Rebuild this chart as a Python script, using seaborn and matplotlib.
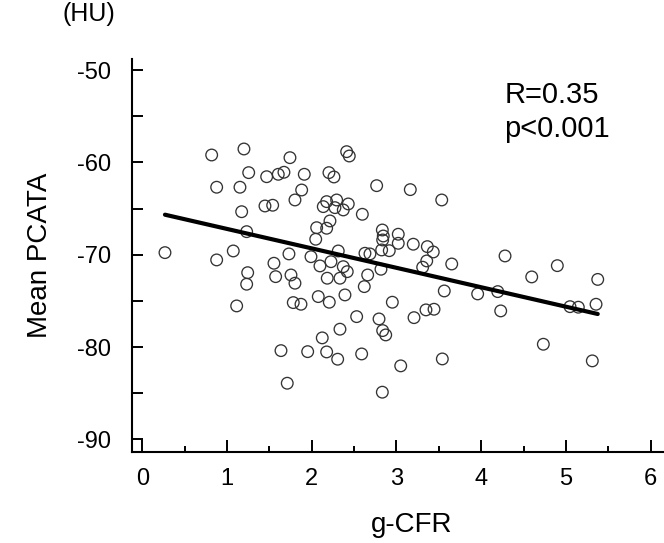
import matplotlib

matplotlib.use("Agg")
import matplotlib.pyplot as plt
import numpy as np
import pandas as pd
import seaborn as sns

# values
g_cfr = [
    0.819, 1.200, 1.256, 1.468, 1.605, 0.878, 1.153, 1.448, 1.539, 1.173,
    1.232, 0.268, 1.074, 0.878, 1.554, 1.244, 1.574, 1.743, 2.412, 2.443,
    1.672, 1.912, 2.203, 2.262, 1.881, 1.802, 2.766, 3.163, 3.534, 2.136,
    2.176, 2.294, 2.274, 2.372, 2.431, 2.597, 2.215, 2.058, 2.176, 2.047,
    2.833, 2.844, 2.837, 3.021, 3.021, 3.198, 3.364, 3.434, 3.357, 3.309,
    2.825, 2.915, 2.687, 2.628, 2.313, 1.731, 1.991, 2.227, 2.097, 2.372,
    2.419, 2.817, 2.660, 1.755, 1.802, 2.183, 2.333, 2.620, 1.782, 1.873,
    2.077, 2.207, 2.392, 2.951, 3.348, 3.443, 3.564, 2.530, 2.794, 3.207,
    2.333, 2.837, 2.873, 2.124, 1.637, 1.952, 2.176, 2.306, 2.589, 3.050,
    3.541, 1.711, 2.833, 1.232, 1.114, 3.652, 4.281, 4.898, 4.596, 5.375,
    3.958, 4.195, 4.230, 5.048, 5.146, 5.355, 4.733, 5.311,
]
mean_pcata = [
    -59.20, -58.55, -61.11, -61.55, -61.29, -62.69, -62.69, -64.72, -64.64, -65.34,
    -67.50, -69.77, -69.59, -70.56, -70.92, -71.94, -72.37, -59.49, -58.84, -59.31,
    -61.07, -61.29, -61.11, -61.58, -62.99, -64.07, -62.52, -62.95, -64.07, -64.79,
    -64.25, -64.07, -64.90, -65.15, -64.50, -65.62, -66.34, -67.07, -67.13, -68.32,
    -67.32, -67.97, -68.40, -67.78, -68.76, -68.86, -69.12, -69.70, -70.67, -71.35,
    -69.48, -69.56, -69.91, -69.84, -69.59, -69.91, -70.21, -70.75, -71.21, -71.29,
    -71.83, -71.57, -72.19, -72.19, -73.08, -72.54, -72.54, -73.45, -75.18, -75.36,
    -74.53, -75.14, -74.35, -75.14, -75.97, -75.90, -73.92, -76.70, -76.95, -76.81,
    -78.06, -78.21, -78.68, -79.00, -80.38, -80.49, -80.52, -81.31, -80.74, -82.03,
    -81.28, -83.91, -84.88, -73.19, -75.54, -71.00, -70.13, -71.18, -72.40, -72.67,
    -74.24, -73.99, -76.08, -75.62, -75.68, -75.36, -79.69, -81.49,
]
fit_intercept = -65.10
fit_slope = -2.105
stat_lines = ["R=0.35", "p<0.001"]
x_ticks = [0, 1, 2, 3, 4, 5, 6]
y_ticks = [-90, -80, -70, -60, -50]

sns.set_theme(style="ticks")
plt.rcParams["font.family"] = ["Liberation Sans", "DejaVu Sans"]
plt.rcParams["axes.unicode_minus"] = False
for key in ["text.color", "axes.labelcolor", "xtick.color", "ytick.color"]:
    plt.rcParams[key] = "black"

df = pd.DataFrame({"g_cfr": g_cfr, "mean_pcata": mean_pcata})
line_x = np.array([df["g_cfr"].min(), df["g_cfr"].max()])
fit_df = pd.DataFrame({"x": line_x, "y": fit_intercept + fit_slope * line_x})

fig = plt.figure(figsize=(6.64, 5.43), dpi=100)
ax = fig.add_axes([0.1983, 0.167, 0.8017, 0.7243])

sns.scatterplot(data=df, x="g_cfr", y="mean_pcata", ax=ax, s=70,
                facecolor="none", edgecolor="#333333", linewidth=0.95, zorder=3)
sns.lineplot(data=fit_df, x="x", y="y", ax=ax, color="black", linewidth=3.0, zorder=4)

ax.set_xlim(-0.125, 6.157)
ax.set_ylim(-91.39, -48.81)
ax.set_xticks(x_ticks)
ax.set_xticks(np.arange(0.5, 6, 1), minor=True)
ax.set_yticks(y_ticks)
ax.set_yticks(np.arange(-85, -54, 10), minor=True)

for side in ["top", "right"]:
    ax.spines[side].set_visible(False)
for side in ["left", "bottom"]:
    ax.spines[side].set_linewidth(1.5)
    ax.spines[side].set_color("black")

ax.tick_params(axis="both", which="both", direction="in", color="black", width=1.4,
               bottom=True, left=True)
ax.tick_params(axis="x", which="major", length=8.5, pad=11.5, labelsize=17)
ax.tick_params(axis="x", which="minor", length=4.3)
ax.tick_params(axis="y", which="both", length=8)
ax.tick_params(axis="y", which="major", pad=15, labelsize=17)

ax.set_xlabel("")
ax.set_ylabel("")
fig.text(0.06, 0.529, "Mean PCATA", rotation=90, fontsize=20, ha="center", va="center")
fig.text(0.6205, 0.033, "g-CFR", fontsize=20, ha="center", va="center")
fig.text(0.134, 0.974, "(HU)", fontsize=18, ha="center", va="center")

ax.text(0.70, 0.908, stat_lines[0], transform=ax.transAxes, fontsize=21, va="center")
ax.text(0.70, 0.822, stat_lines[1], transform=ax.transAxes, fontsize=21, va="center")

fig.savefig("out.png", dpi=100)
